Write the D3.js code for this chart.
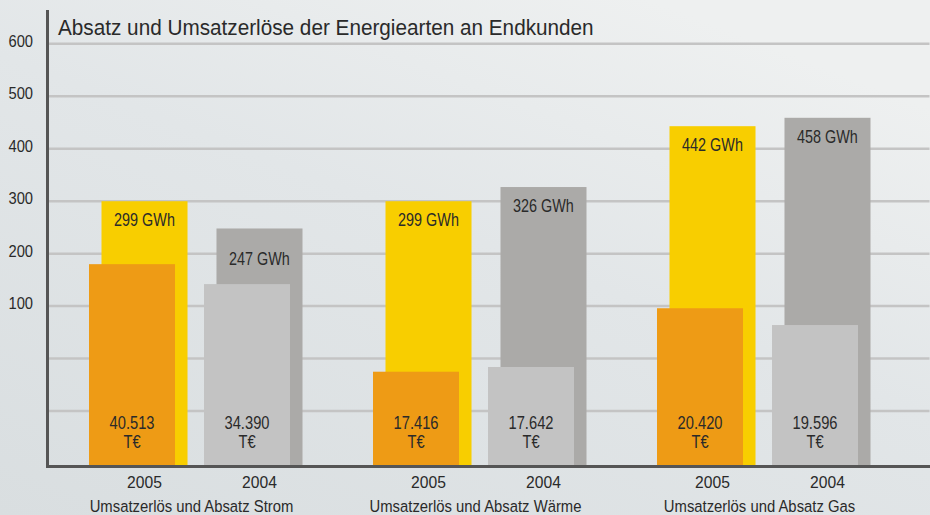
<!DOCTYPE html>
<html>
<head>
<meta charset="utf-8">
<script src="https://cdn.jsdelivr.net/npm/d3@7"></script>
<style>
  html, body { margin: 0; padding: 0; background: #e2e6e8; }
  #chart { width: 930px; height: 515px; }
  text { font-family: 'Liberation Sans', Arial, sans-serif; fill: #2a2a2a; }
</style>
</head>
<body>
<div id="chart"></div>
<script>
// categories and series
const groups = ['Umsatzerlös und Absatz Strom', 'Umsatzerlös und Absatz Wärme', 'Umsatzerlös und Absatz Gas'];
const years = ['2005', '2004'];
const sales2005 = [299, 299, 442];          // GWh
const sales2004 = [247, 326, 458];          // GWh
const revenue2005 = [40513, 17416, 20420];  // T€
const revenue2004 = [34390, 17642, 19596];  // T€
// revenue bars are not drawn to the GWh scale, so their heights are read in axis units
const revenueLevel2005 = [179, -26, 95];
const revenueLevel2004 = [141, -17, 63];
const tickLabels = [100, 200, 300, 400, 500, 600];
const gridValues = [-100, 0, 100, 200, 300, 400, 500, 600];

const title = 'Absatz und Umsatzerlöse der Energiearten an Endkunden';

const width = 930, height = 515;
const colors = {
    '2005': { back: '#f8ce00', front: '#ee9b15' },
    '2004': { back: '#abaaa8', front: '#c3c3c3' }
};

const data = groups.map((g, i) => ({
    group: g,
    bars: [
        { year: '2005', sales: sales2005[i], revenue: revenue2005[i], level: revenueLevel2005[i] },
        { year: '2004', sales: sales2004[i], revenue: revenue2004[i], level: revenueLevel2004[i] }
    ]
}));

const de = d3.formatLocale({ decimal: ',', thousands: '.', grouping: [3], currency: ['', ' €'] });
const fmt = de.format(',');

// the original face is a condensed one, so squeeze the text horizontally
const squeeze = (x, y, sx) => `translate(${x},${y}) scale(${sx},1)`;

const svg = d3.select('#chart').append('svg')
    .attr('width', width)
    .attr('height', height)
    .attr('viewBox', `0 0 ${width} ${height}`);

const defs = svg.append('defs');
const bg = defs.append('linearGradient')
    .attr('id', 'bg')
    .attr('x1', 0).attr('y1', 1)
    .attr('x2', 0.7).attr('y2', 0);
bg.append('stop').attr('offset', 0).attr('stop-color', '#d9dee0');
bg.append('stop').attr('offset', 0.6).attr('stop-color', '#e2e6e8');
bg.append('stop').attr('offset', 1).attr('stop-color', '#eef0f0');

svg.append('rect')
    .attr('width', width)
    .attr('height', height)
    .attr('fill', 'url(#bg)');

const yScale = d3.scaleLinear()
    .domain([-200, 600])
    .range([463, 43.3]);
const baseY = 466;

const x0 = d3.scaleBand()
    .domain(groups)
    .range([53.5, 905.5])
    .paddingInner(0.25)
    .paddingOuter(0.125);

const x1 = d3.scaleBand()
    .domain(years)
    .range([0, 201])
    .paddingInner(0.252)
    .paddingOuter(0);

const backOffset = 12.5;
const bw = x1.bandwidth();

// gridlines + tick labels
const yAxis = d3.axisLeft(yScale)
    .tickValues(gridValues)
    .tickSizeInner(-(width - 48))
    .tickSizeOuter(0)
    .tickPadding(14)
    .tickFormat(d => tickLabels.includes(d) ? d : '');

const axisG = svg.append('g')
    .attr('class', 'y axis')
    .attr('transform', 'translate(47.5,0)')
    .call(yAxis);
axisG.select('.domain').remove();
axisG.selectAll('.tick line')
    .attr('stroke', '#c4c4c4')
    .attr('stroke-width', 2.5);
axisG.selectAll('.tick text')
    .attr('x', null)
    .attr('dy', null)
    .attr('transform', squeeze(-14.5, 3, 0.92))
    .style('font-size', '16px')
    .style('font-family', "'Liberation Sans', Arial, sans-serif")
    .attr('fill', '#2a2a2a');

// bars
const groupG = svg.selectAll('.group')
    .data(data)
    .enter()
    .append('g')
    .attr('class', 'group')
    .attr('transform', d => `translate(${x0(d.group)},0)`);

const barG = groupG.selectAll('.bar')
    .data(d => d.bars)
    .enter()
    .append('g')
    .attr('class', 'bar')
    .attr('transform', d => `translate(${x1(d.year)},0)`);

barG.append('rect')
    .attr('x', backOffset)
    .attr('y', d => yScale(d.sales))
    .attr('width', bw)
    .attr('height', d => baseY - yScale(d.sales))
    .attr('fill', d => colors[d.year].back);

barG.append('rect')
    .attr('x', 0)
    .attr('y', d => yScale(d.level))
    .attr('width', bw)
    .attr('height', d => baseY - yScale(d.level))
    .attr('fill', d => colors[d.year].front);

// GWh labels, the 2004 Strom one sits lower in the original
barG.append('text')
    .attr('transform', d => squeeze(backOffset + bw / 2, yScale(d.sales) + (d.sales === 247 ? 37 : 25), 0.8))
    .attr('text-anchor', 'middle')
    .style('font-size', '18px')
    .text(d => `${d.sales} GWh`);

// revenue labels
barG.append('text')
    .attr('transform', squeeze(bw / 2, baseY - 37, 0.84))
    .attr('text-anchor', 'middle')
    .style('font-size', '17.5px')
    .text(d => fmt(d.revenue));
barG.append('text')
    .attr('transform', squeeze(bw / 2, baseY - 18, 0.84))
    .attr('text-anchor', 'middle')
    .style('font-size', '17.5px')
    .text('T€');

// year labels
barG.append('text')
    .attr('transform', squeeze(backOffset + bw / 2, 488, 0.95))
    .attr('text-anchor', 'middle')
    .style('font-size', '16.5px')
    .text(d => d.year);

// group labels
groupG.append('text')
    .attr('transform', squeeze(x1.range()[1] / 2 + 2, 511.5, 0.9))
    .attr('text-anchor', 'middle')
    .style('font-size', '16.5px')
    .text(d => d.group);

// axis lines
svg.append('line')
    .attr('x1', 47.5).attr('x2', 47.5)
    .attr('y1', 10).attr('y2', 468)
    .attr('stroke', '#555')
    .attr('stroke-width', 3);
svg.append('line')
    .attr('x1', 46).attr('x2', width)
    .attr('y1', baseY + 0.5).attr('y2', baseY + 0.5)
    .attr('stroke', '#555')
    .attr('stroke-width', 3);

svg.append('text')
    .attr('transform', squeeze(58, 35, 0.93))
    .style('font-size', '22.3px')
    .attr('fill', '#1f1f1f')
    .text(title);
</script>
</body>
</html>
